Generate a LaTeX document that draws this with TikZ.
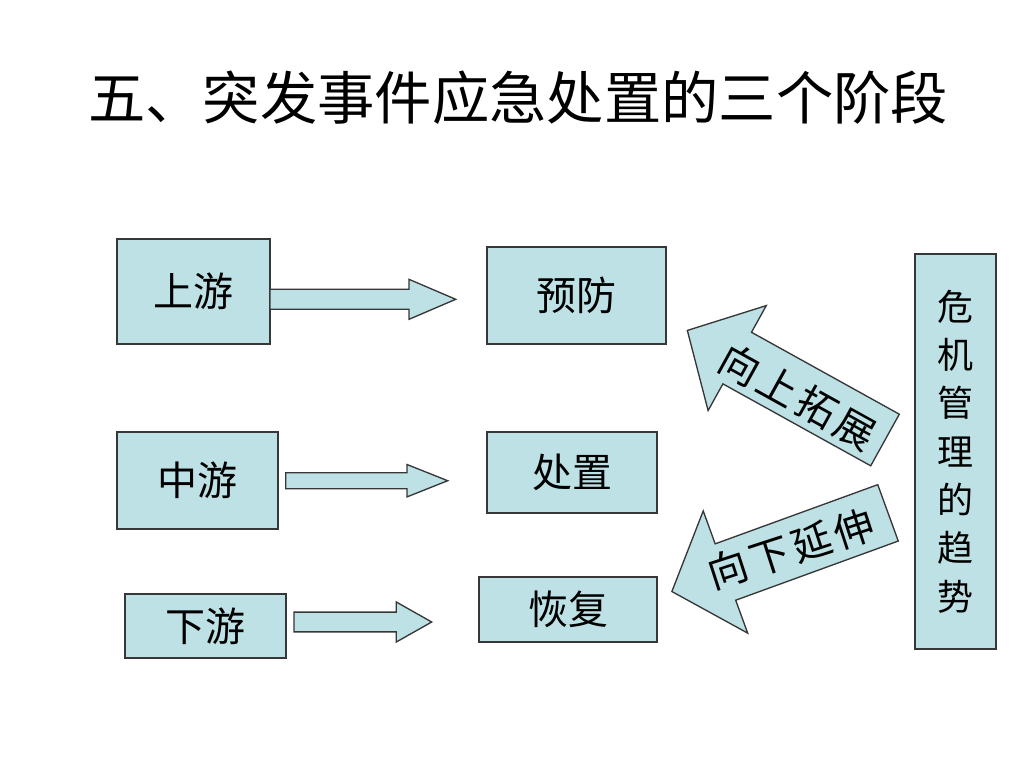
\documentclass[tikz,border=0pt]{standalone}
\usepackage{fontspec}
\setmainfont{Noto Sans CJK SC}
\newfontfamily\spacedfont[LetterSpace=10]{Noto Sans CJK SC}
\newdimen\px \px=0.75pt
\definecolor{boxfill}{RGB}{189,225,228}
\definecolor{boxline}{RGB}{55,55,55}
\tikzset{
  box/.style={draw=boxline, fill=boxfill, line width=1pt, inner sep=0pt,
    font=\fontsize{30}{36}\selectfont},
  blk/.style={draw=boxline, fill=boxfill, line width=1pt, line join=miter},
  lbl/.style={inner sep=0pt, font=\spacedfont\fontsize{30}{36}\selectfont},
}
% horizontal block arrow: xstart, xneck, xtip, ycenter, shaft half, head half
\newcommand\harrow[6]{%
  \draw[blk] (#1,{#4-#5}) -- (#2,{#4-#5}) -- (#2,{#4-#6}) -- (#3,#4)
    -- (#2,{#4+#6}) -- (#2,{#4+#5}) -- (#1,{#4+#5}) -- cycle;}
% rotated block arrow: x, y of tail middle, angle, shaft length, head length, shaft half, head half
\newcommand\rarrow[7]{%
  \begin{scope}[shift={(#1,#2)}, rotate=#3]
    \draw[blk] (0,-#6) -- (#4,-#6) -- (#4,-#7) -- ({#4+#5},0) -- (#4,#7)
      -- (#4,#6) -- (0,#6) -- cycle;
  \end{scope}}
\begin{document}
\begin{tikzpicture}[x=0.75pt,y=-0.75pt]
\useasboundingbox[fill=white] (0,0) rectangle (1024,768);

\node[inner sep=0pt, font=\fontsize{43}{50}\selectfont] (title) at (518,98)
  {五、突发事件应急处置的三个阶段};

% left column
\node[box, minimum width=153\px, minimum height=105\px] (up)   at (193.5,291.5) {上游};
\node[box, minimum width=161\px, minimum height=97\px]  (mid)  at (197.5,480.5) {中游};
\node[box, minimum width=161\px, minimum height=64\px]  (down) at (205.5,626)   {下游};

% middle column
\node[box, minimum width=179\px, minimum height=97\px]  (prev) at (576.5,295.5) {预防};
\node[box, minimum width=170\px, minimum height=81\px]  (hand) at (572,472.5)   {处置};
\node[box, minimum width=178\px, minimum height=65\px]  (rec)  at (568,609.5)   {恢复};

% right tall box
\node[box, minimum width=81\px, minimum height=395\px, align=center,
  font=\fontsize{27}{36.2}\selectfont] (trend) at (955.5,451.5)
  {危\\机\\管\\理\\的\\趋\\势};

% horizontal block arrows
\harrow{270}{409}{455.7}{299.3}{10}{20}
\harrow{285.7}{407}{447.7}{480.7}{8}{16.2}
\harrow{294}{396.3}{431.7}{622}{9.9}{20}

% rotated block arrows
\rarrow{885}{440}{151}{169}{57}{29.5}{60}
\rarrow{888}{512.85}{200}{173}{57}{30}{65}

\node[lbl, rotate=-29] (upt) at (798,396.5) {向上拓展};
\node[lbl, rotate=18]  (dnt) at (791,549)   {向下延伸};
\end{tikzpicture}
\end{document}
